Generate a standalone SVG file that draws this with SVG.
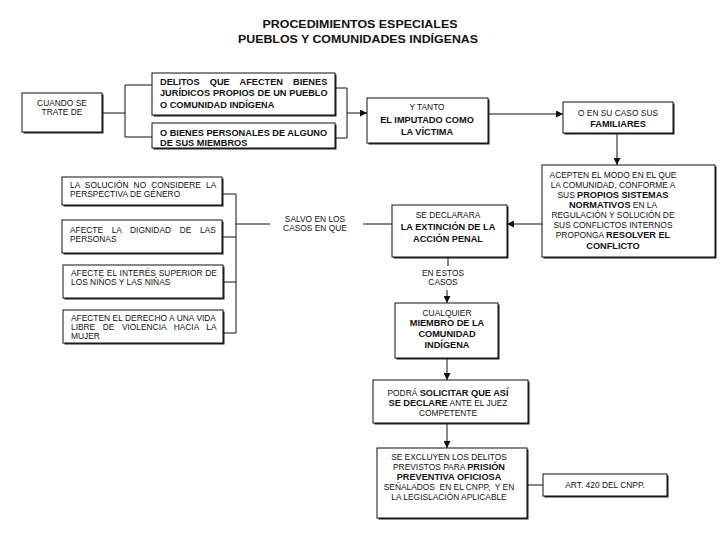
<svg xmlns="http://www.w3.org/2000/svg" width="720" height="540" viewBox="0 0 720 540">
<style>
.bg{fill:#fff}
.box{fill:#fff;stroke:#111;stroke-width:1}
.sh{fill:#222}
.t{font-family:"Liberation Sans",Arial,sans-serif;font-size:8.4px;fill:#111}
.b{font-weight:bold;font-size:9.2px}
.c{text-anchor:middle}
.pre{white-space:pre}
.ttl{font-family:"Liberation Sans",Arial,sans-serif;font-size:11.5px;font-weight:bold;fill:#111;text-anchor:middle}
.ln{stroke:#111;stroke-width:1;fill:none}
.ar{marker-end:url(#ah)}
</style>
<defs>
<marker id="ah" viewBox="0 0 8 8" refX="8" refY="4" markerWidth="7" markerHeight="7" markerUnits="userSpaceOnUse" orient="auto">
<path d="M0,0 L8,4 L0,8 z" fill="#111"/>
</marker>
</defs>
<rect class="bg" x="0" y="0" width="720" height="540"/>
<g id="title">
<text class="ttl" x="360" y="28" textLength="195" lengthAdjust="spacingAndGlyphs">PROCEDIMIENTOS ESPECIALES</text>
<text class="ttl" x="358" y="43" textLength="240" lengthAdjust="spacingAndGlyphs">PUEBLOS Y COMUNIDADES INDÍGENAS</text>
</g>
<g id="connectors">
<path class="ln" d="M102,113 H125 M125,85 V137 M125,85 H152 M125,137 H152"/>
<path class="ln" d="M335,88 H347 M335,138 H347 M347,88 V138"/>
<path class="ln ar" d="M347,113 H367"/>
<path class="ln ar" d="M488,114 H563"/>
<path class="ln ar" d="M617,133 V165"/>
<path class="ln ar" d="M542,224 H507"/>
<path class="ln" d="M392,224 H363"/>
<path class="ln" d="M270,224 H236 M236,194 V333 M222,194 H236 M223,237 H236 M223,282 H236 M223,333 H236"/>
<path class="ln" d="M448,257 V266"/>
<path class="ln ar" d="M447,290 V303"/>
<path class="ln ar" d="M447,358 V380"/>
<path class="ln ar" d="M447,423 V448"/>
<path class="ln" d="M527,485 H543"/>
</g>
<g id="n-cuando">
<rect class="sh" x="23.5" y="94.5" width="80" height="39"/>
<rect class="box" x="22" y="93" width="80" height="39"/>
<text class="t c" x="62" y="106">CUANDO SE</text>
<text class="t c" x="62" y="115">TRATE DE</text>
</g>
<g id="n-delitos">
<rect class="sh" x="153.5" y="74.5" width="183" height="42"/>
<rect class="box" x="152" y="73" width="183" height="42"/>
<text class="t b" x="160" y="84.5" word-spacing="7.6">DELITOS QUE AFECTEN BIENES</text>
<text class="t b" x="160" y="96" word-spacing="0.3">JURÍDICOS PROPIOS DE UN PUEBLO</text>
<text class="t b" x="160" y="107.5">O COMUNIDAD INDÍGENA</text>
</g>
<g id="n-bienes">
<rect class="sh" x="153.5" y="124.5" width="183" height="25"/>
<rect class="box" x="152" y="123" width="183" height="25"/>
<text class="t b" x="160" y="136">O BIENES PERSONALES DE ALGUNO</text>
<text class="t b" x="160" y="146">DE SUS MIEMBROS</text>
</g>
<g id="n-ytanto">
<rect class="sh" x="368.5" y="99.5" width="121" height="45"/>
<rect class="box" x="367" y="98" width="121" height="45"/>
<text class="t c" x="427" y="110">Y TANTO</text>
<text class="t c b" x="427" y="123">EL IMPUTADO COMO</text>
<text class="t c b" x="427" y="135">LA VÍCTIMA</text>
</g>
<g id="n-familiares">
<rect class="sh" x="564.5" y="103.5" width="110" height="31"/>
<rect class="box" x="563" y="102" width="110" height="31"/>
<text class="t c" x="618" y="116">O EN SU CASO SUS</text>
<text class="t c b" x="618" y="127">FAMILIARES</text>
</g>
<g id="n-acepten">
<rect class="sh" x="543.5" y="166.5" width="173" height="92"/>
<rect class="box" x="542" y="165" width="173" height="92"/>
<text class="t c" x="613" y="178">ACEPTEN EL MODO EN EL QUE</text>
<text class="t c" x="613" y="188">LA COMUNIDAD, CONFORME A</text>
<text class="t c" x="613" y="198">SUS <tspan class="b">PROPIOS SISTEMAS</tspan></text>
<text class="t c" x="613" y="208"><tspan class="b">NORMATIVOS</tspan> EN LA</text>
<text class="t c" x="613" y="218">REGULACIÓN Y SOLUCIÓN DE</text>
<text class="t c" x="613" y="228">SUS CONFLICTOS INTERNOS</text>
<text class="t c" x="613" y="238">PROPONGA <tspan class="b">RESOLVER EL</tspan></text>
<text class="t c b" x="613" y="249">CONFLICTO</text>
</g>
<g id="n-extincion">
<rect class="sh" x="393.5" y="206.5" width="115" height="52"/>
<rect class="box" x="392" y="205" width="115" height="52"/>
<text class="t c" x="448" y="218">SE DECLARARA</text>
<text class="t c b" x="448" y="230">LA EXTINCIÓN DE LA</text>
<text class="t c b" x="448" y="242">ACCIÓN PENAL</text>
</g>
<g id="n-salvo">
<text class="t c" x="315" y="222">SALVO EN LOS</text>
<text class="t c" x="315" y="231">CASOS EN QUE</text>
</g>
<g id="n-genero">
<rect class="sh" x="63.5" y="178.5" width="160" height="28"/>
<rect class="box" x="62" y="177" width="160" height="28"/>
<text class="t" x="70" y="188" word-spacing="2.7">LA SOLUCIÓN NO CONSIDERE LA</text>
<text class="t" x="70" y="197">PERSPECTIVA DE GÉNERO</text>
</g>
<g id="n-dignidad">
<rect class="sh" x="63.5" y="221.5" width="160" height="33"/>
<rect class="box" x="62" y="220" width="160" height="33"/>
<text class="t" x="70" y="233" word-spacing="6.3">AFECTE LA DIGNIDAD DE LAS</text>
<text class="t" x="70" y="242">PERSONAS</text>
</g>
<g id="n-interes">
<rect class="sh" x="64.5" y="266.5" width="160" height="33"/>
<rect class="box" x="63" y="265" width="160" height="33"/>
<text class="t" x="71" y="276" word-spacing="0.5">AFECTE EL INTERÉS SUPERIOR DE</text>
<text class="t" x="71" y="285">LOS NIÑOS Y LAS NIÑAS</text>
</g>
<g id="n-mujer">
<rect class="sh" x="64.5" y="311.5" width="160" height="33"/>
<rect class="box" x="63" y="310" width="160" height="33"/>
<text class="t" x="71" y="321" word-spacing="0.2">AFECTEN EL DERECHO A UNA VIDA</text>
<text class="t" x="71" y="330" word-spacing="5.2">LIBRE DE VIOLENCIA HACIA LA</text>
<text class="t" x="71" y="339">MUJER</text>
</g>
<g id="n-enestos">
<text class="t c" x="443" y="276">EN ESTOS</text>
<text class="t c" x="443" y="285">CASOS</text>
</g>
<g id="n-cualquier">
<rect class="sh" x="396.5" y="304.5" width="103" height="55"/>
<rect class="box" x="395" y="303" width="103" height="55"/>
<text class="t c" x="447" y="316">CUALQUIER</text>
<text class="t c b" x="447" y="326">MIEMBRO DE LA</text>
<text class="t c b" x="447" y="337">COMUNIDAD</text>
<text class="t c b" x="447" y="348">INDÍGENA</text>
</g>
<g id="n-podra">
<rect class="sh" x="374.5" y="381.5" width="155" height="43"/>
<rect class="box" x="373" y="380" width="155" height="43"/>
<text class="t c" x="448" y="396">PODRÁ <tspan class="b">SOLICITAR QUE ASÍ</tspan></text>
<text class="t c" x="448" y="406"><tspan class="b">SE DECLARE</tspan> ANTE EL JUEZ</text>
<text class="t c" x="448" y="416">COMPETENTE</text>
</g>
<g id="n-excluyen">
<rect class="sh" x="378.5" y="449.5" width="150" height="70"/>
<rect class="box" x="377" y="448" width="150" height="70"/>
<text class="t c" x="449" y="460">SE EXCLUYEN LOS DELITOS</text>
<text class="t c" x="449" y="470">PREVISTOS PARA <tspan class="b">PRISIÓN</tspan></text>
<text class="t c b" x="449" y="480">PREVENTIVA OFICIOSA</text>
<text class="t c pre" x="449" y="490">SEÑALADOS  EN EL CNPP,  Y EN</text>
<text class="t c" x="449" y="500">LA LEGISLACIÓN APLICABLE</text>
</g>
<g id="n-art">
<rect class="sh" x="544.5" y="475.5" width="124" height="22"/>
<rect class="box" x="543" y="474" width="124" height="22"/>
<text class="t c" x="605" y="488">ART. 420 DEL CNPP.</text>
</g>
</svg>
